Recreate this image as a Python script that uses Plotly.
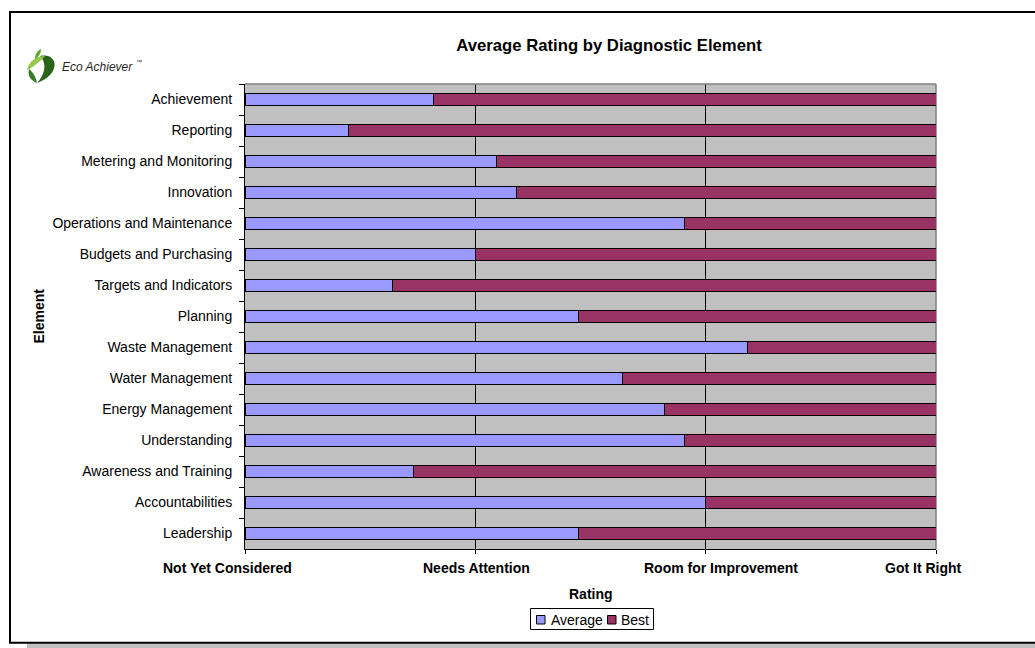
import plotly.graph_objects as go

# Diagnostic elements, top to bottom
elements = [
    "Achievement", "Reporting", "Metering and Monitoring", "Innovation",
    "Operations and Maintenance", "Budgets and Purchasing", "Targets and Indicators",
    "Planning", "Waste Management", "Water Management", "Energy Management",
    "Understanding", "Awareness and Training", "Accountabilities", "Leadership",
]
# Average rating (0 = Not Yet Considered ... 3 = Got It Right)
average = [0.82, 0.45, 1.09, 1.18, 1.91, 1.00, 0.64, 1.45, 2.18, 1.64, 1.82, 1.91, 0.73, 2.00, 1.45]
# Remaining gap up to the best possible rating
best = [2.18, 2.55, 1.91, 1.82, 1.09, 2.00, 2.36, 1.55, 0.82, 1.36, 1.18, 1.09, 2.27, 1.00, 1.55]

rating_values = [0, 1, 2, 3]
rating_labels = ["Not Yet Considered", "Needs Attention", "Room for Improvement", "Got It Right"]
# horizontal nudges applied to the rating labels (px)
rating_label_shift = [-18, 1, 15, -13]

AVG_COLOR = "#9999FF"
BEST_COLOR = "#993366"
FONT = "Liberation Sans, Arial, sans-serif"

W, H = 1035, 648
ML, MR, MT, MB = 245, 99, 84, 99
PW, PH = W - ML - MR, H - MT - MB


def px_x(px):
    return (px - ML) / PW


def px_y(py):
    return (H - MB - py) / PH


fig = go.Figure()
fig.add_trace(go.Bar(
    y=elements, x=average, orientation="h", name="Average",
    marker=dict(color=AVG_COLOR, line=dict(color="#000000", width=1)),
    width=0.41, showlegend=False, hoverinfo="x+y",
))
fig.add_trace(go.Bar(
    y=elements, x=best, orientation="h", name="Best",
    marker=dict(color=BEST_COLOR, line=dict(color="#000000", width=1)),
    width=0.41, showlegend=False, hoverinfo="x+y",
))

shapes = []
# chart frame and its drop shadow
shapes.append(dict(type="rect", xref="paper", yref="paper",
                   x0=px_x(27), x1=px_x(1060), y0=px_y(643.5), y1=px_y(652),
                   fillcolor="#C0C0C0", line=dict(width=0), layer="below"))
shapes.append(dict(type="rect", xref="paper", yref="paper",
                   x0=px_x(10), x1=px_x(1060), y0=px_y(642.7), y1=px_y(12),
                   line=dict(color="#000000", width=2), fillcolor="rgba(0,0,0,0)"))
# plot area border (top and right)
shapes.append(dict(type="line", xref="paper", yref="paper", x0=0, x1=1, y0=1, y1=1,
                   line=dict(color="#808080", width=1.5)))
shapes.append(dict(type="line", xref="paper", yref="paper", x0=1, x1=1, y0=0, y1=1,
                   line=dict(color="#808080", width=1.5), layer="below"))

# legend box
lg_x0, lg_x1, lg_y0, lg_y1 = 530.5, 653.5, 608.5, 629.5
shapes.append(dict(type="rect", xref="paper", yref="paper",
                   x0=px_x(lg_x0), x1=px_x(lg_x1), y0=px_y(lg_y1), y1=px_y(lg_y0),
                   line=dict(color="#000000", width=1), fillcolor="#FFFFFF"))
for sx, col in [(536.5, AVG_COLOR), (607.5, BEST_COLOR)]:
    shapes.append(dict(type="rect", xref="paper", yref="paper",
                       x0=px_x(sx), x1=px_x(sx + 8.5), y0=px_y(624), y1=px_y(615.5),
                       line=dict(color="#000000", width=1), fillcolor=col))


# logo mark (cubic bezier outlines given in pixel space)
def path(points):
    d = "M {:.5f} {:.5f}".format(px_x(points[0][0]), px_y(points[0][1]))
    i = 1
    while i < len(points):
        (a, b), (c, e), (f, g) = points[i:i + 3]
        d += " C {:.5f} {:.5f}, {:.5f} {:.5f}, {:.5f} {:.5f}".format(
            px_x(a), px_y(b), px_x(c), px_y(e), px_x(f), px_y(g))
        i += 3
    return d + " Z"


hook = [(40, 56), (58, 52), (62, 74), (37, 83),
        (44, 76), (48, 64), (40, 56)]
tail = [(29, 69), (27, 77), (32, 81), (37, 83),
        (36, 78), (34, 73), (29, 69)]
leaf = [(27, 70), (29, 61), (36, 56), (45, 56),
        (40, 61), (34, 67), (27, 70)]
sprout = [(35, 59), (35, 54), (37, 51), (41, 49),
          (41, 53), (39, 57), (35, 59)]
shapes.append(dict(type="path", xref="paper", yref="paper", path=path(hook),
                   fillcolor="#2A6418", line=dict(width=0)))
shapes.append(dict(type="path", xref="paper", yref="paper", path=path(tail),
                   fillcolor="#3A7A22", line=dict(width=0)))
shapes.append(dict(type="path", xref="paper", yref="paper", path=path(leaf),
                   fillcolor="#94C84A", line=dict(width=0)))
shapes.append(dict(type="path", xref="paper", yref="paper", path=path(sprout),
                   fillcolor="#5FA82E", line=dict(width=0)))

annotations = []
for v, lab, dx in zip(rating_values, rating_labels, rating_label_shift):
    annotations.append(dict(text="<b>" + lab + "</b>", x=v, xref="x", xshift=dx,
                            y=px_y(567.5), yref="paper", yanchor="middle",
                            showarrow=False, font=dict(size=14, color="#000000", family=FONT)))
annotations.append(dict(text="<b>Rating</b>", x=0.5, xref="paper", y=px_y(593.5), yref="paper",
                        yanchor="middle", showarrow=False,
                        font=dict(size=14, color="#000000", family=FONT)))
annotations.append(dict(text="<b>Element</b>", x=px_x(38), xref="paper", y=0.5, yref="paper",
                        textangle=-90, xanchor="center", yanchor="middle", showarrow=False,
                        font=dict(size=14, color="#000000", family=FONT)))
annotations.append(dict(text="Average", x=px_x(548.5), xref="paper", xanchor="left",
                        y=px_y(619.5), yref="paper", yanchor="middle", showarrow=False,
                        font=dict(size=14, color="#000000", family=FONT)))
annotations.append(dict(text="Best", x=px_x(619), xref="paper", xanchor="left",
                        y=px_y(619.5), yref="paper", yanchor="middle", showarrow=False,
                        font=dict(size=14, color="#000000", family=FONT)))
annotations.append(dict(text="<i>Eco Achiever</i>", x=px_x(60), xref="paper", xanchor="left",
                        y=px_y(67), yref="paper", yanchor="middle", showarrow=False,
                        font=dict(size=12, color="#262626", family=FONT)))
annotations.append(dict(text="™", x=px_x(134), xref="paper", xanchor="left",
                        y=px_y(62), yref="paper", yanchor="middle", showarrow=False,
                        font=dict(size=6, color="#262626", family=FONT)))

fig.update_layout(
    width=W, height=H,
    margin=dict(l=ML, r=MR, t=MT, b=MB, pad=0),
    barmode="stack",
    paper_bgcolor="#FFFFFF",
    plot_bgcolor="#C0C0C0",
    font=dict(family=FONT, size=14, color="#000000"),
    title=dict(text="<b>Average Rating by Diagnostic Element</b>",
               x=609 / W, xref="container", xanchor="center",
               y=1 - 45 / H, yref="container", yanchor="middle",
               font=dict(size=16.7, color="#000000", family=FONT)),
    xaxis=dict(range=[0, 3], tickvals=rating_values, showticklabels=False,
               showgrid=True, gridcolor="#000000", gridwidth=1, zeroline=False,
               showline=True, linecolor="#000000", linewidth=1,
               ticks="outside", ticklen=4, tickcolor="#000000", fixedrange=True),
    yaxis=dict(categoryorder="array", categoryarray=elements, autorange="reversed",
               tickson="boundaries", ticks="outside", ticklen=5, tickcolor="#000000",
               ticklabelstandoff=9,
               showline=True, linecolor="#000000", linewidth=1, showgrid=False,
               tickfont=dict(size=14, color="#000000", family=FONT), fixedrange=True),
    shapes=shapes,
    annotations=annotations,
    showlegend=False,
)

fig.write_html("out.html")
